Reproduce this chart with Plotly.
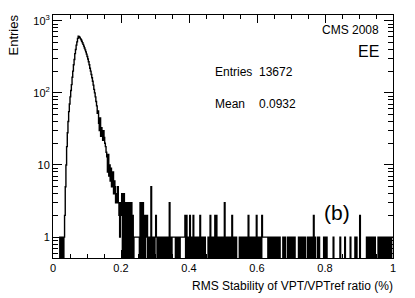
import numpy as np
import plotly.graph_objects as go

# Histogram: 500 bins from 0 to 1 (bin width 0.002)
n_bins = 500
x_min, x_max = 0.0, 1.0

# counts for bins 10..99
main_start = 10
main_counts = [
    1, 0, 1, 0, 1, 0, 1,
    2, 5, 10, 18, 28, 40, 55, 70, 88, 108, 130, 165, 200, 245, 290, 350, 400, 460, 510, 570,
    610, 600, 585, 565, 545, 520, 495, 470, 445, 420, 395, 370, 345, 320, 295, 270, 245, 220,
    200, 180, 162, 145, 128,
    112, 100, 88, 76, 66, 52, 56, 38, 30, 45, 25, 33, 28, 22, 30, 24, 20, 18, 15, 13,
    8, 14, 7, 10, 6, 9, 5, 7, 8, 4, 6, 5, 3, 4, 3, 5, 3, 2, 1, 3,
]

# counts for bins 100..499 (tail, 0.20 .. 1.00)
tail_start = 100
tail_counts = [
    2, 4, 0, 3, 4, 0, 3, 0, 3, 0,
    3, 0, 3, 2, 0, 3, 0, 2, 0, 1,
    1, 1, 1, 1, 1, 1, 1, 0, 3, 0,
    3, 0, 3, 0, 2, 0, 2, 1, 2, 0,
    1, 0, 1, 0, 5, 0, 1, 0, 1, 0,
    1, 2, 1, 0, 1, 0, 1, 0, 1, 0,
    1, 0, 1, 0, 1, 0, 1, 0, 1, 0,
    1, 3, 0, 1, 0, 1, 1, 1, 1, 1,
    0, 1, 0, 1, 0, 1, 0, 1, 1, 1,
    1, 1, 1, 1, 2, 0, 2, 0, 1, 0,
    1, 2, 0, 1, 0, 1, 2, 0, 1, 0,
    1, 0, 1, 0, 1, 0, 2, 0, 1, 0,
    1, 0, 1, 1, 0, 0, 0, 0, 1, 0,
    1, 2, 0, 1, 0, 1, 0, 1, 2, 0,
    2, 0, 1, 0, 1, 0, 1, 0, 1, 0,
    1, 0, 3, 0, 1, 0, 1, 0, 1, 0,
    1, 0, 1, 2, 0, 1, 0, 1, 0, 1,
    0, 0, 0, 0, 1, 0, 1, 0, 0, 1,
    0, 1, 0, 1, 0, 1, 0, 2, 0, 1,
    0, 1, 0, 1, 0, 1, 0, 1, 0, 2,
    0, 1, 0, 1, 0, 1, 0, 2, 1, 1,
    1, 1, 1, 1, 1, 1, 0, 1, 0, 1,
    0, 1, 0, 1, 0, 1, 0, 1, 0, 1,
    0, 1, 0, 1, 0, 0, 0, 0, 1, 0,
    0, 1, 0, 0, 0, 1, 0, 1, 0, 1,
    0, 1, 0, 1, 0, 1, 0, 0, 0, 0,
    0, 1, 0, 1, 0, 1, 0, 1, 0, 0,
    1, 0, 0, 0, 1, 0, 1, 0, 1, 0,
    1, 0, 1, 2, 0, 1, 0, 0, 0, 1,
    0, 1, 0, 0, 0, 0, 0, 0, 1, 0,
    1, 0, 1, 0, 0, 0, 0, 0, 0, 0,
    0, 0, 1, 0, 0, 0, 0, 0, 0, 0,
    0, 0, 1, 0, 0, 0, 0, 0, 0, 1,
    0, 0, 0, 0, 0, 0, 0, 1, 0, 0,
    0, 0, 0, 0, 1, 0, 1, 0, 0, 0,
    0, 2, 0, 0, 0, 0, 0, 0, 0, 0,
    0, 1, 0, 1, 0, 1, 0, 1, 0, 1,
    0, 1, 0, 1, 0, 0, 0, 0, 1, 0,
    1, 0, 1, 0, 1, 0, 1, 0, 1, 0,
    1, 0, 1, 0, 1, 0, 1, 0, 1, 1,
]

y_tick_vals = [1, 10, 100, 1000]
y_tick_text = ["1", "10", "10<sup>2</sup>", "10<sup>3</sup>"]
x_tick_vals = [0, 0.2, 0.4, 0.6, 0.8, 1.0]
x_tick_text = ["0", "0.2", "0.4", "0.6", "0.8", "1"]

stats_entries = "13672"
stats_mean = "0.0932"

# ---- build histogram arrays ----
counts = np.zeros(n_bins)
counts[main_start:main_start + len(main_counts)] = main_counts
counts[tail_start:tail_start + len(tail_counts)] = tail_counts
edges = np.linspace(x_min, x_max, n_bins + 1)
# empty bins are drawn at the frame bottom (below the visible range), as ROOT does
y_draw = np.where(counts > 0, counts, 0.05)
xs = np.append(edges[:-1], edges[-1])
ys = np.append(y_draw, y_draw[-1])

FONT = "Liberation Sans, Arial, Helvetica, sans-serif"

fig = go.Figure()
fig.add_trace(go.Scatter(
    x=xs, y=ys, mode="lines", line=dict(color="black", width=1.4, shape="hv"),
    hoverinfo="skip", showlegend=False,
))

minor_y = []
for dec in [0.1, 1, 10, 100, 1000]:
    for m in range(2, 10):
        minor_y.append(m * dec)

L, R, T, B = 53, 415 - 22, 15, 298 - 40

fig.update_layout(
    width=415, height=298,
    margin=dict(l=L, r=415 - R, t=T, b=298 - B),
    paper_bgcolor="white", plot_bgcolor="white",
    font=dict(family=FONT, color="black", size=11),
    showlegend=False,
)
fig.update_xaxes(
    range=[x_min, x_max], showgrid=False, zeroline=False,
    showline=True, linecolor="black", linewidth=1, mirror="allticks",
    ticks="inside", ticklen=8, tickcolor="black", tickwidth=1,
    tickvals=x_tick_vals, ticktext=x_tick_text,
    tickfont=dict(size=11, family=FONT),
    minor=dict(ticks="inside", ticklen=4, tickcolor="black", dtick=0.05, tick0=0, showgrid=False),
)
fig.update_yaxes(
    type="log", range=[-0.29, 3.08], showgrid=False, zeroline=False,
    showline=True, linecolor="black", linewidth=1, mirror="allticks",
    ticks="inside", ticklen=9, tickcolor="black", tickwidth=1,
    tickvals=y_tick_vals, ticktext=y_tick_text,
    tickfont=dict(size=11, family=FONT),
    minor=dict(ticks="inside", ticklen=5, tickcolor="black", tickmode="array",
               tickvals=minor_y, showgrid=False),
)


def px(xp, yp):
    return (xp - L) / (R - L), 1 - (yp - T) / (B - T)


def text_at(text, xp, yp, size, xanchor="left", yanchor="middle", angle=0):
    xx, yy = px(xp, yp)
    return dict(text=text, x=xx, y=yy, xref="paper", yref="paper", xanchor=xanchor,
                yanchor=yanchor, textangle=angle, showarrow=False, font=dict(size=size, family=FONT))


ann = [
    text_at("Entries", 13, 13, 13, xanchor="center", yanchor="top", angle=-90),
    text_at("RMS Stability of VPT/VPTref ratio (%)", 395, 277, 12, xanchor="right", yanchor="top"),
    text_at("CMS 2008", 381, 30, 12, xanchor="right"),
    text_at("EE", 381, 52, 16, xanchor="right"),
    text_at("Entries", 213, 72, 12),
    text_at(stats_entries, 257, 72, 12),
    text_at("Mean", 213, 104, 12),
    text_at(stats_mean, 257, 104, 12),
    text_at("(b)", 322, 212, 21),
]
fig.update_layout(annotations=ann)

fig.write_html("out.html", config={"displayModeBar": False},
               post_script="document.body.style.margin='0';")
